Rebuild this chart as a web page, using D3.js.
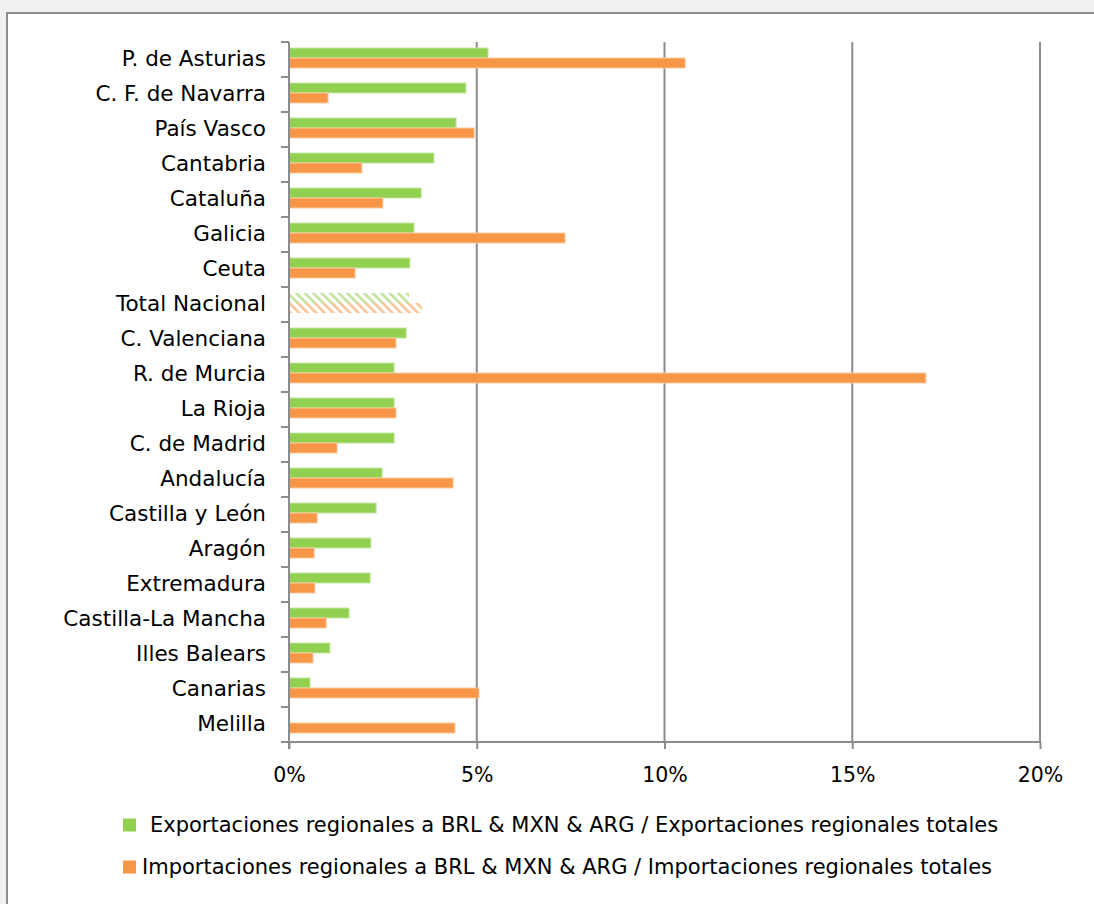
<!DOCTYPE html>
<html>
<head>
<meta charset="utf-8">
<script src="https://cdn.jsdelivr.net/npm/d3@7"></script>
<style>
  body { margin: 0; background: #f0f0f0; }
  svg { display: block; }
</style>
</head>
<body>
<svg id="chart" width="1094" height="904"></svg>
<script>
// regions, top to bottom
const regions = ["P. de Asturias", "C. F. de Navarra", "País Vasco", "Cantabria", "Cataluña",
  "Galicia", "Ceuta", "Total Nacional", "C. Valenciana", "R. de Murcia", "La Rioja",
  "C. de Madrid", "Andalucía", "Castilla y León", "Aragón", "Extremadura",
  "Castilla-La Mancha", "Illes Balears", "Canarias", "Melilla"];

// % exports to BRL & MXN & ARG
const exportShare = [5.30, 4.71, 4.45, 3.86, 3.52, 3.33, 3.22, 3.20, 3.12, 2.80, 2.80,
  2.80, 2.48, 2.32, 2.18, 2.16, 1.60, 1.09, 0.56, 0.0];
// % imports from BRL & MXN & ARG
const importShare = [10.55, 1.04, 4.93, 1.94, 2.50, 7.35, 1.76, 3.54, 2.85, 16.96, 2.85,
  1.28, 4.37, 0.75, 0.67, 0.69, 0.99, 0.64, 5.06, 4.42];

const xTicks = [0, 5, 10, 15, 20];
const legendLabels = [
  "Exportaciones regionales a BRL & MXN & ARG / Exportaciones regionales totales",
  "Importaciones regionales a BRL & MXN & ARG / Importaciones regionales totales"
];
const totalLabel = "Total Nacional";

const green = "#92d050", orange = "#f79646";
const font = "Tahoma, 'DejaVu Sans', sans-serif";

const svg = d3.select("#chart");
const margin = { top: 42, left: 289, right: 54, bottom: 162 };
const width = 1094, height = 904;

// frame
svg.append("rect")
  .attr("x", 7).attr("y", 13)
  .attr("width", 1200).attr("height", 1000)
  .attr("fill", "#fff").attr("stroke", "#8c8c8c").attr("stroke-width", 2);

const defs = svg.append("defs");
function hatch(id, color) {
  const p = defs.append("pattern")
    .attr("id", id).attr("patternUnits", "userSpaceOnUse")
    .attr("width", 6).attr("height", 6)
    .attr("patternTransform", "rotate(-45)");
  p.append("rect").attr("width", 6).attr("height", 6).attr("fill", "#fff");
  p.append("rect").attr("width", 2.5).attr("height", 6).attr("fill", color).attr("opacity", 0.6);
}
hatch("hatchGreen", green);
hatch("hatchOrange", orange);

const x = d3.scaleLinear().domain([0, 20]).range([margin.left, width - margin.right]);
const y = d3.scaleBand().domain(regions).range([margin.top, height - margin.bottom]);
const inner = d3.scaleBand().domain(["exp", "imp"]).range([6, 26]);

// vertical gridlines
svg.append("g").selectAll("line")
  .data(xTicks.slice(1))
  .join("line")
  .attr("x1", d => x(d)).attr("x2", d => x(d))
  .attr("y1", margin.top).attr("y2", height - margin.bottom)
  .attr("stroke", "#8c8c8c").attr("stroke-width", 2);

// bars
const rows = svg.append("g").selectAll("g")
  .data(regions)
  .join("g")
  .attr("transform", d => `translate(0,${y(d)})`);

rows.append("rect")
  .attr("x", x(0))
  .attr("y", inner("exp"))
  .attr("width", (d, i) => x(exportShare[i]) - x(0))
  .attr("height", inner.bandwidth())
  .attr("fill", d => d === totalLabel ? "url(#hatchGreen)" : green)
  .attr("stroke", d => d === totalLabel ? "none" : "#c4e6a3")
  .attr("stroke-width", 1);

rows.append("rect")
  .attr("x", x(0))
  .attr("y", inner("imp"))
  .attr("width", (d, i) => x(importShare[i]) - x(0))
  .attr("height", inner.bandwidth())
  .attr("fill", d => d === totalLabel ? "url(#hatchOrange)" : orange)
  .attr("stroke", d => d === totalLabel ? "none" : "#fbc9a0")
  .attr("stroke-width", 1);

// y axis
const yAxis = svg.append("g")
  .attr("transform", `translate(${margin.left},0)`)
  .call(d3.axisLeft(y).tickSize(0).tickPadding(23));
yAxis.select(".domain").remove();
yAxis.selectAll("text")
  .attr("font-family", font).attr("font-size", 21.5).attr("fill", "#000");
svg.append("g").selectAll("line")
  .data(d3.range(regions.length + 1))
  .join("line")
  .attr("x1", margin.left - 8).attr("x2", margin.left)
  .attr("y1", i => margin.top + i * y.step())
  .attr("y2", i => margin.top + i * y.step())
  .attr("stroke", "#8c8c8c").attr("stroke-width", 2);
svg.append("line")
  .attr("x1", margin.left).attr("x2", margin.left)
  .attr("y1", margin.top).attr("y2", height - margin.bottom + 7)
  .attr("stroke", "#8c8c8c").attr("stroke-width", 2);

// x axis
const xAxis = svg.append("g")
  .attr("transform", `translate(0,${height - margin.bottom})`)
  .call(d3.axisBottom(x).tickValues(xTicks).tickFormat(d => d + "%").tickSize(7).tickPadding(18));
xAxis.select(".domain").attr("stroke", "#8c8c8c").attr("stroke-width", 2)
  .attr("d", `M${margin.left - 8},0H${width - margin.right}`);
xAxis.selectAll(".tick line").attr("stroke", "#8c8c8c").attr("stroke-width", 2);
xAxis.selectAll("text")
  .attr("font-family", font).attr("font-size", 20.5).attr("fill", "#000");

// legend
const legend = svg.append("g").attr("font-family", font).attr("font-size", 21);
[[green, 150, 825], [orange, 142, 867]].forEach(([c, tx, cy], i) => {
  legend.append("rect")
    .attr("x", 123).attr("y", cy - 6.5).attr("width", 13).attr("height", 13)
    .attr("fill", c);
  legend.append("text")
    .attr("x", tx).attr("y", cy).attr("dy", "0.35em")
    .attr("fill", "#000")
    .text(legendLabels[i]);
});
</script>
</body>
</html>
